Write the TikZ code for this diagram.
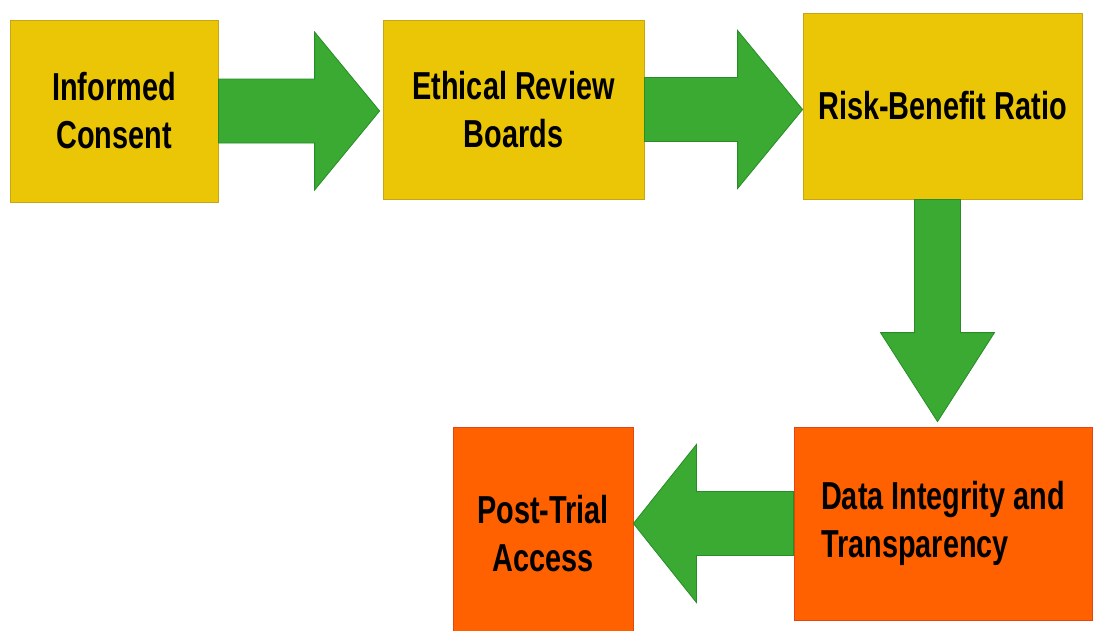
\documentclass[tikz,border=0pt]{standalone}
\usepackage{fontspec}
\newfontfamily\boxfont{Liberation Sans}[FakeStretch=0.74]
\usetikzlibrary{calc}
\definecolor{boxyellow}{RGB}{234,198,6}
\definecolor{edgeyellow}{RGB}{200,165,20}
\definecolor{boxorange}{RGB}{255,96,0}
\definecolor{edgeorange}{RGB}{225,70,20}
\definecolor{arrowgreen}{RGB}{58,170,50}
\definecolor{edgegreen}{RGB}{40,140,40}
\tikzset{
	stage/.style={draw=edgeyellow, fill=boxyellow, line width=0.8pt, inner sep=0pt, align=center,
		font=\boxfont\bfseries\fontsize{39}{48}\selectfont},
	later/.style={stage, draw=edgeorange, fill=boxorange},
	flow/.style={draw=edgegreen, fill=arrowgreen, line width=0.8pt, line join=miter}
}
% fat arrow from (#1) to tip (#2), shaft half width #3, head half width #4, head length #5
\def\blockarrow(#1)(#2)(#3:#4:#5){
	\coordinate (base) at ($(#2)!#5pt!(#1)$);
	\draw[flow] ($(#1)!#3pt!90:(#2)$) -- ($(base)!#3pt!90:(#2)$) -- ($(base)!#4pt!90:(#2)$) -- (#2)
		-- ($(base)!#4pt!-90:(#2)$) -- ($(base)!#3pt!-90:(#2)$) -- ($(#1)!#3pt!-90:(#2)$) -- cycle;
}

\begin{document}
\begin{tikzpicture}[x=1pt, y=-1pt]
			%%%%% START %%%%%
			
			\clip (0, 0) rectangle (1093, 630);
			\fill[white] (0, 0) rectangle (1093, 630);
			
			% top row
			\node[stage, minimum width=208, minimum height=182] (consent) at (114, 111) {Informed\\Consent};
			\node[stage, minimum width=261, minimum height=179] (boards) at (513.5, 109.5) {Ethical Review\\Boards};
			\node[stage, minimum width=279, minimum height=186] (ratio) at (942.5, 106) {Risk-Benefit Ratio};
			
			% bottom row
			\node[later, align=left, minimum width=298, minimum height=193] (data) at (943, 523.5) {Data Integrity and\\Transparency};
			\node[later, minimum width=180, minimum height=213] (access) at (543, 533.5) {Post-Trial\\Access};
			
			\coordinate (tipA) at ($(consent.east -| boards.west)+(-3, 0)$);
			\blockarrow(consent.east)(tipA)(32:79:65)
			
			\coordinate (tipB) at (boards.east -| ratio.west);
			\blockarrow(boards.east)(tipB)(32:79:65)
			
			\coordinate (startC) at ($(ratio.south)+(-5, 0)$);
			\coordinate (tipC) at ($(startC |- data.north)+(0, -5)$);
			\blockarrow(startC)(tipC)(23:57:89)
			
			\coordinate (tipD) at (data.west -| access.east);
			\blockarrow(data.west)(tipD)(32:79:63)
			
			%%%%% END %%%%%
\end{tikzpicture}
\end{document}
